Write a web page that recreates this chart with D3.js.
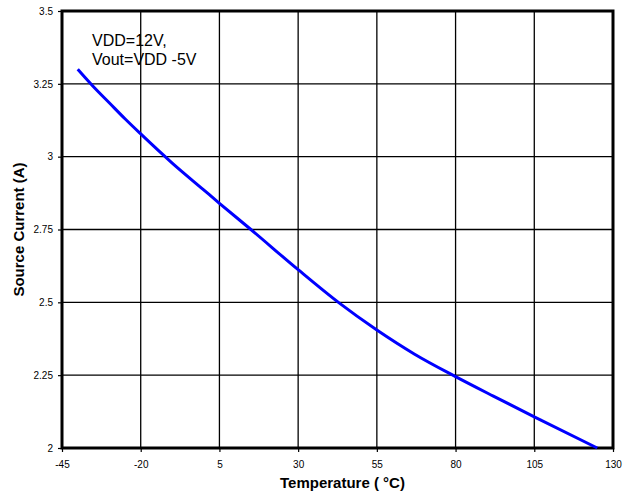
<!DOCTYPE html>
<html>
<head>
<meta charset="utf-8">
<script src="https://cdn.jsdelivr.net/npm/d3@7"></script>
<style>
  body { margin: 0; background: #fff; }
  svg { font-family: "Liberation Sans", Arial, sans-serif; }
</style>
</head>
<body>
<svg id="chart" width="628" height="493"></svg>
<script>
// values
let temps    = [-40, -35, -30, -25, -20, -10, 0, 5, 15, 30, 43, 55, 67, 80, 92, 105, 125],
    currents = [3.30, 3.240, 3.185, 3.130, 3.078, 2.978, 2.886, 2.840, 2.750, 2.612, 2.498, 2.405, 2.322, 2.245, 2.178, 2.107, 2.000];

let xTicks = [-45, -20, 5, 30, 55, 80, 105, 130],
    yTicks = [2, 2.25, 2.5, 2.75, 3, 3.25, 3.5];

let note = ["VDD=12V,", "Vout=VDD -5V"];

// plot area
let margin = {top: 11, right: 15, bottom: 45, left: 62},
    width = 628 - margin.left - margin.right,
    height = 493 - margin.top - margin.bottom;

let x = d3.scaleLinear().domain([-45, 130]).range([0, width]);
let y = d3.scaleLinear().domain([2, 3.5]).range([height, 0]);

let svg = d3.select("#chart")
  .append("g")
  .attr("transform", "translate(" + margin.left + "," + margin.top + ")");

// grid
svg.append("g")
  .selectAll("line")
  .data(xTicks)
  .join("line")
    .attr("x1", d => x(d)).attr("x2", d => x(d))
    .attr("y1", 0).attr("y2", height)
    .attr("stroke", "#000").attr("stroke-width", 1.3);

svg.append("g")
  .selectAll("line")
  .data(yTicks)
  .join("line")
    .attr("x1", 0).attr("x2", width)
    .attr("y1", d => y(d)).attr("y2", d => y(d))
    .attr("stroke", "#000").attr("stroke-width", 1.3);

// axes (plain hyphen for negatives, like the original)
let xAxis = svg.append("g")
  .attr("transform", "translate(0," + height + ")")
  .call(d3.axisBottom(x).tickValues(xTicks).tickSize(4).tickPadding(9).tickFormat(d => String(d)));

let yAxis = svg.append("g")
  .call(d3.axisLeft(y).tickValues(yTicks).tickSize(4).tickPadding(5).tickFormat(d => String(d)));

[xAxis, yAxis].forEach(a => {
  a.select(".domain").remove();
  a.selectAll("text").attr("font-size", 10).attr("fill", "#000")
    .attr("font-family", "'Liberation Sans', Arial, sans-serif");
  a.selectAll("line").attr("stroke", "#000").attr("stroke-width", 1.2);
});

// frame
svg.append("rect")
  .attr("x", 0).attr("y", 0)
  .attr("width", width).attr("height", height)
  .attr("fill", "none").attr("stroke", "#000").attr("stroke-width", 3);

// curve
let line = d3.line()
  .x((d, i) => x(temps[i]))
  .y(d => y(d))
  .curve(d3.curveMonotoneX);

svg.append("path")
  .datum(currents)
  .attr("d", line)
  .attr("fill", "none")
  .attr("stroke", "#0000ff")
  .attr("stroke-width", 3);

// note
svg.append("g")
  .selectAll("text")
  .data(note)
  .join("text")
    .attr("x", 30)
    .attr("y", (d, i) => 35 + i * 19)
    .attr("font-size", 16)
    .attr("fill", "#000")
    .text(d => d);

// axis titles
d3.select("#chart").append("text")
  .attr("x", margin.left + width / 2 + 5)
  .attr("y", 488)
  .attr("text-anchor", "middle")
  .attr("font-size", 15)
  .attr("font-weight", "bold")
  .text("Temperature ( °C)");

d3.select("#chart").append("text")
  .attr("transform", "translate(24," + (margin.top + height / 2) + ") rotate(-90)")
  .attr("text-anchor", "middle")
  .attr("font-size", 15)
  .attr("font-weight", "bold")
  .text("Source Current (A)");
</script>
</body>
</html>
